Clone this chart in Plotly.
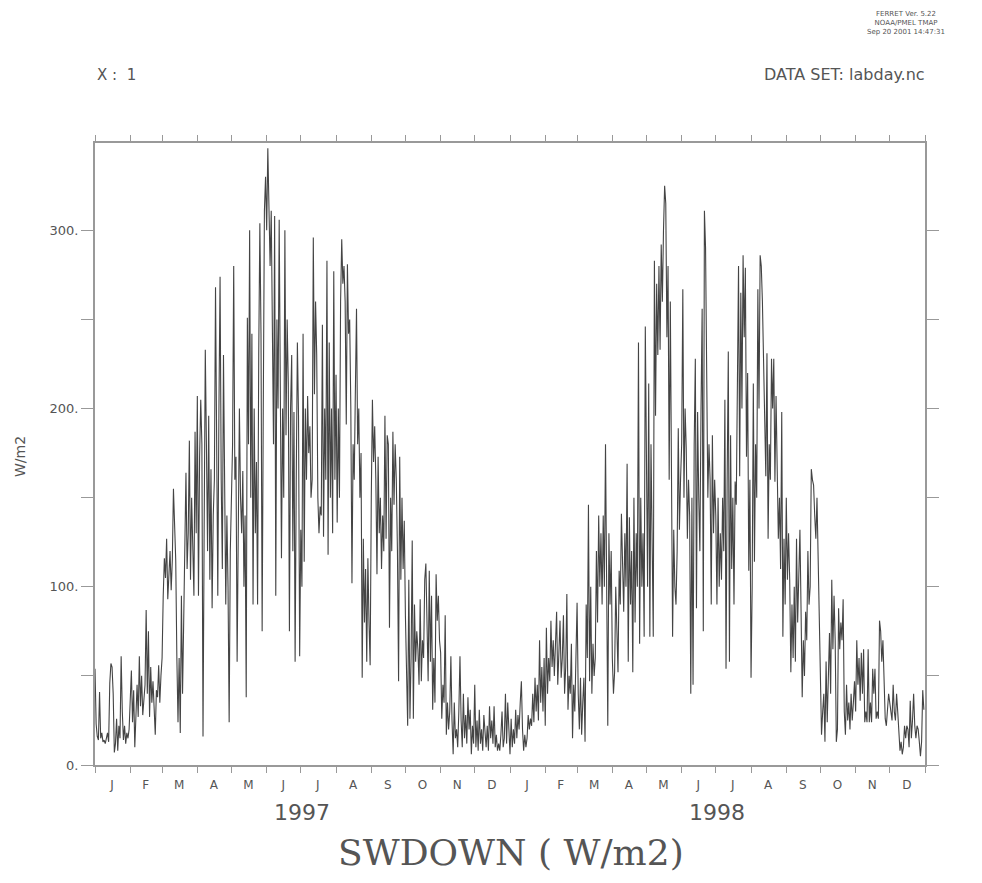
import pandas as pd
import plotly.graph_objects as go

# ---------------- data (daily SWDOWN, W/m2) ----------------
swdown_1997 = [
    # Jan
    54, 23, 16, 14, 41, 15, 18, 13, 14, 12, 15, 18, 13, 46, 57, 55, 40, 7, 12, 26, 8, 22, 15, 61, 30, 14, 22, 12, 18, 15, 20,
    # Feb
    35, 53, 24, 42, 10, 30, 45, 27, 61, 33, 50, 28, 38, 45, 87, 40, 75, 27, 55, 35, 47, 31, 17, 42, 38, 56, 35, 50,
    # Mar
    60, 95, 116, 105, 127, 93, 110, 120, 98, 115, 155, 127, 115, 60, 24, 60, 18, 95, 40, 80, 140, 164, 110, 130, 182, 104, 150, 120, 95, 187, 130,
    # Apr
    207, 95, 173, 205, 180, 16, 132, 233, 180, 120, 196, 104, 166, 88, 140, 160, 268, 150, 95, 200, 274, 160, 110, 230, 162, 90, 140, 100, 24, 120,
    # May
    150, 180, 280, 160, 173, 58, 130, 200, 150, 130, 165, 100, 140, 38, 251, 180, 300, 150, 242, 90, 200, 130, 170, 90, 230, 304, 242, 75, 200, 311, 330,
    # Jun
    300, 346, 320, 280, 311, 233, 180, 308, 95, 250, 200, 306, 219, 116, 200, 150, 300, 185, 250, 214, 75, 200, 230, 120, 198, 58, 160, 237, 196, 61,
    # Jul
    132, 100, 242, 114, 200, 160, 207, 175, 190, 150, 160, 296, 208, 260, 230, 150, 130, 145, 140, 247, 128, 200, 160, 283, 118, 237, 150, 200, 130, 277, 160,
    # Aug
    219, 136, 200, 150, 260, 295, 270, 280, 260, 191, 281, 242, 250, 200, 102, 180, 160, 210, 256, 180, 200, 150, 175, 49, 127, 80, 110, 58, 116, 80, 56,
    # Sep
    150, 205, 170, 190, 160, 107, 173, 130, 150, 110, 140, 120, 196, 127, 185, 180, 77, 150, 120, 187, 146, 180, 160, 120, 47, 173, 104, 150, 110, 137,
    # Oct
    84, 58, 22, 104, 26, 60, 126, 26, 90, 58, 75, 65, 45, 93, 47, 70, 60, 104, 113, 80, 47, 109, 58, 95, 31, 60, 35, 107, 81, 95, 70,
    # Nov
    63, 26, 45, 35, 84, 17, 35, 20, 30, 61, 25, 6, 35, 15, 20, 10, 30, 61, 25, 10, 40, 15, 28, 12, 38, 20, 31, 6, 22, 12,
    # Dec
    45, 10, 25, 8, 31, 12, 20, 8, 28, 15, 10, 22, 8, 33, 15, 25, 12, 33, 10, 17, 8, 12, 8, 17, 30, 10, 15, 40, 12, 35, 20,
]

swdown_1998 = [
    # Jan
    6, 26, 10, 20, 12, 31, 15, 28, 20, 35, 47, 20, 8, 17, 10, 15, 28, 20, 26, 22, 40, 24, 49, 30, 45, 25, 70, 35, 55, 30, 60,
    # Feb
    22, 77, 40, 60, 47, 81, 55, 70, 50, 65, 86, 45, 70, 81, 49, 60, 84, 40, 55, 96, 31, 50, 40, 68, 15, 45, 30, 60,
    # Mar
    91, 40, 20, 49, 17, 35, 49, 13, 90, 60, 146, 47, 100, 40, 68, 50, 60, 120, 80, 140, 100, 130, 90, 140, 100, 180, 110, 22, 130, 90, 120,
    # Apr
    60, 40, 52, 100, 70, 52, 109, 90, 141, 116, 86, 130, 100, 169, 58, 139, 90, 120, 52, 150, 80, 130, 100, 237, 68, 150, 100, 130, 72, 246,
    # May
    150, 100, 214, 72, 180, 120, 72, 283, 196, 270, 230, 280, 233, 292, 260, 300, 325, 315, 240, 280, 160, 260, 127, 72, 132, 100, 90, 120, 189, 132, 160,
    # Jun
    180, 267, 150, 200, 178, 127, 160, 140, 40, 150, 45, 180, 228, 88, 198, 150, 120, 200, 256, 75, 311, 290, 196, 150, 180, 160, 90, 185, 130, 160,
    # Jul
    140, 90, 150, 100, 130, 104, 150, 120, 205, 54, 160, 232, 58, 185, 110, 150, 90, 159, 146, 200, 280, 162, 265, 200, 286, 240, 279, 173, 220, 109, 160,
    # Aug
    49, 100, 214, 114, 180, 150, 267, 200, 286, 280, 260, 231, 200, 162, 231, 127, 180, 160, 228, 200, 228, 159, 207, 170, 127, 150, 110, 198, 72, 127, 90,
    # Sep
    150, 104, 130, 104, 52, 90, 60, 100, 58, 127, 80, 110, 132, 86, 38, 70, 50, 86, 70, 120, 90, 100, 166, 160, 157, 140, 127, 150, 118, 90,
    # Oct
    49, 17, 30, 40, 13, 58, 24, 50, 74, 40, 104, 65, 95, 70, 13, 20, 88, 65, 80, 70, 93, 30, 17, 45, 25, 35, 20, 40, 25, 35, 47,
    # Nov
    30, 70, 45, 60, 36, 63, 40, 65, 24, 30, 24, 65, 24, 35, 24, 54, 40, 54, 26, 30, 26, 81, 75, 58, 70, 40, 26, 22, 30, 40,
    # Dec
    35, 30, 25, 45, 30, 25, 40, 30, 20, 8, 13, 6, 10, 22, 15, 22, 20, 10, 36, 15, 25, 40, 22, 15, 22, 20, 13, 5, 13, 42, 31,
]

month_letters = ["J", "F", "M", "A", "M", "J", "J", "A", "S", "O", "N", "D"]
years = ["1997", "1998"]
y_tick_values = [0, 50, 100, 150, 200, 250, 300]
y_tick_labels = ["0.", "", "100.", "", "200.", "", "300."]
y_max = 349

# ---------------- build ----------------
values = swdown_1997 + swdown_1998
dates = pd.date_range("1997-01-01", periods=len(values), freq="D")

month_starts = pd.date_range("1997-01-01", "1999-01-01", freq="MS")
year_starts = pd.date_range("1997-01-01", "1999-01-01", freq="YS")
mid_months = [d + pd.Timedelta(days=(d.days_in_month - 1) / 2) for d in month_starts[:-1]]
mid_labels = month_letters * len(years)

# page body has an 8px margin: figure is placed at (8, 8) on screen
OFF = 8
W, H = 982 - 2 * OFF, 883 - 2 * OFF
SL, SR, ST, SB = 95, 925, 143, 765          # plot frame in screen pixels
L, R, T, B = SL - OFF, SR - OFF, ST - OFF, SB - OFF


def px(sx):
    return (sx - OFF - L) / (R - L)


def py(sy):
    return (B - (sy - OFF)) / (B - T)


AX = "#999999"
TXT = "#555555"

fig = go.Figure()
fig.add_trace(go.Scatter(x=dates, y=values, mode="lines",
                         line=dict(color="#444444", width=1.1),
                         showlegend=False, hoverinfo="x+y"))
# invisible trace on overlay axis to carry month letters
fig.add_trace(go.Scatter(x=[dates[0], dates[-1]], y=[None, None], xaxis="x2",
                         mode="lines", showlegend=False, hoverinfo="skip"))

xrange = [month_starts[0], month_starts[-1]]
fig.update_layout(
    width=W, height=H,
    margin=dict(l=L, r=W - R, t=T, b=H - B, autoexpand=False),
    paper_bgcolor="white", plot_bgcolor="white",
    font=dict(family="DejaVu Sans", color=TXT),
    xaxis=dict(
        type="date", range=xrange, automargin=False,
        tickvals=list(year_starts), ticktext=["" for _ in year_starts],
        ticks="outside", ticklen=13, tickcolor=AX, tickwidth=1,
        minor=dict(tickvals=list(month_starts), ticks="outside", ticklen=6,
                   tickcolor=AX, tickwidth=1, showgrid=False),
        showline=True, linecolor=AX, linewidth=2, mirror="ticks",
        showgrid=False, zeroline=False,
    ),
    xaxis2=dict(
        type="date", range=xrange, overlaying="x", side="bottom", automargin=False,
        tickvals=mid_months, ticktext=mid_labels, ticks="", ticklabelstandoff=11,
        tickfont=dict(size=12, color=TXT, family="DejaVu Sans"),
        showline=False, showgrid=False, zeroline=False,
    ),
    yaxis=dict(
        range=[0, y_max], tickvals=y_tick_values, ticktext=y_tick_labels, automargin=False,
        ticks="outside", ticklen=12, tickcolor=AX, tickwidth=1,
        tickfont=dict(size=13, color=TXT),
        showline=True, linecolor=AX, linewidth=2, mirror="ticks",
        showgrid=False, zeroline=False,
    ),
)

# y axis title
fig.add_annotation(x=px(20), y=py(457), xref="paper", yref="paper", text="W/m2",
                   textangle=-90, showarrow=False, xanchor="center", yanchor="middle",
                   font=dict(size=14, color=TXT))

# year labels under month letters
for yr in years:
    fig.add_annotation(x=pd.Timestamp(f"{yr}-07-02"), xref="x", y=py(812), yref="paper",
                       text=yr, showarrow=False, font=dict(size=22, color=TXT),
                       xanchor="center", yanchor="middle")

# header texts
fig.add_annotation(x=px(95), y=py(75), xref="paper", yref="paper", text="X&nbsp;:&nbsp;&nbsp;1",
                   showarrow=False, xanchor="left", yanchor="middle",
                   font=dict(size=15, color=TXT))
fig.add_annotation(x=px(927), y=py(75), xref="paper", yref="paper", text="DATA SET: labday.nc",
                   showarrow=False, xanchor="right", yanchor="middle",
                   font=dict(size=16, color=TXT))
fig.add_annotation(x=px(906), y=py(9), xref="paper", yref="paper",
                   text="FERRET Ver. 5.22<br>NOAA/PMEL TMAP<br>Sep 20 2001 14:47:31",
                   showarrow=False, xanchor="center", yanchor="top", align="center",
                   borderpad=0, font=dict(size=7, color=TXT))
# main title at bottom
fig.add_annotation(x=px(511), y=py(874), xref="paper", yref="paper", text="SWDOWN ( W/m2)",
                   showarrow=False, xanchor="center", yanchor="bottom", borderpad=0,
                   font=dict(size=36, color="#555555", family="DejaVu Serif"))

fig.write_html("out.html")
